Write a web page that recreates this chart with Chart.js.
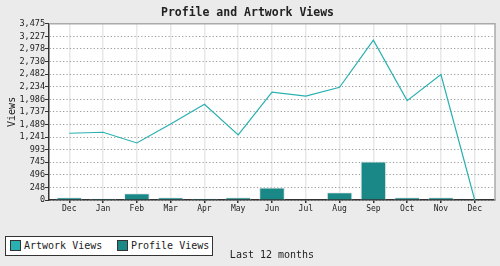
<!DOCTYPE html>
<html>
<head>
<meta charset="utf-8">
<script src="https://cdn.jsdelivr.net/npm/chart.js@4/dist/chart.umd.min.js"></script>
<style>
  html, body { margin: 0; padding: 0; background: #ebebeb; }
  #wrap { position: relative; width: 500px; height: 266px; }
  #legend {
    position: absolute; left: 5px; top: 236px; width: 206px; height: 18px;
    border: 1.5px solid #333; background: #fff;
    font: 10px "DejaVu Sans Mono", monospace; color: #222;
  }
  .item { position: absolute; top: 0; height: 18px; line-height: 18px; white-space: nowrap; }
  .sw { display: inline-block; width: 9px; height: 9px; border: 1px solid #333;
        vertical-align: middle; margin-right: 3px; position: relative; top: -1px; }
</style>
</head>
<body>
<div id="wrap">
  <canvas id="chart" width="500" height="266"></canvas>
  <div id="legend"></div>
</div>
<script>
/* =========================
   DATA
========================= */
const months = ["Dec", "Jan", "Feb", "Mar", "Apr", "May", "Jun", "Jul", "Aug", "Sep", "Oct", "Nov", "Dec"];
const artworkViews = [1316, 1336, 1125, 1500, 1889, 1283, 2126, 2047, 2224, 3153, 1960, 2473, 0];
const profileViews = [55, 30, 135, 55, 30, 55, 248, 10, 155, 765, 55, 55, 0];
const yTickLabels = ["0", "248", "496", "745", "993", "1,241", "1,489", "1,737", "1,986",
                     "2,234", "2,482", "2,730", "2,978", "3,227", "3,475"];
const yMax = 3474.8;

/* =========================
   PLOT BACKGROUND
========================= */
const plotBox = {
  id: "plotBox",
  beforeDraw(chart) {
    const { ctx, chartArea: a } = chart;
    ctx.save();
    ctx.fillStyle = "#fff";
    ctx.fillRect(a.left, a.top, a.right - a.left, a.bottom - a.top);
    ctx.restore();
  },
  beforeDatasetsDraw(chart) {
    const { ctx, chartArea: a } = chart;
    ctx.save();
    ctx.strokeStyle = "#aaa";
    ctx.lineWidth = 1.5;
    ctx.beginPath();
    ctx.moveTo(a.left, a.top);
    ctx.lineTo(a.right, a.top);
    ctx.lineTo(a.right, a.bottom);
    ctx.stroke();
    ctx.restore();
  }
};

/* =========================
   CHART
========================= */
Chart.defaults.font.family = '"DejaVu Sans Mono", monospace';
Chart.defaults.color = "#222";

const chart = new Chart(document.getElementById("chart"), {
  data: {
    datasets: [
      {
        type: "line",
        label: "Artwork Views",
        data: artworkViews.map((v, i) => ({ x: i, y: v })),
        borderColor: "#2ab0b0",
        backgroundColor: "#2ab0b0",
        borderWidth: 1.2,
        pointRadius: 0,
        tension: 0,
        order: 0
      },
      {
        type: "bar",
        label: "Profile Views",
        data: profileViews.map((v, i) => ({ x: i, y: v })),
        backgroundColor: "#1b8888",
        borderColor: "#ececec",
        borderWidth: 1.2,
        categoryPercentage: 1,
        barPercentage: 0.77,
        order: 1
      }
    ]
  },
  options: {
    responsive: false,
    animation: false,
    layout: { padding: { left: 0, right: 5, top: 0, bottom: 0 } },
    plugins: {
      legend: { display: false },
      tooltip: { enabled: false },
      title: {
        display: true,
        text: "Profile and Artwork Views",
        font: { size: 11.5, weight: "bold" },
        padding: { top: 6, bottom: 4 }
      }
    },
    scales: {
      x: {
        type: "linear",
        offset: false,
        min: -0.6,
        max: 12.6,
        afterBuildTicks: s => { s.ticks = months.map((m, i) => ({ value: i })); },
        afterFit: s => { s.height = 66; },
        ticks: { callback: v => months[v], font: { size: 8 }, padding: 1, maxRotation: 0, autoSkip: false },
        grid: { offset: false, color: "#e8e8e8", lineWidth: 1.5, tickColor: "#333", tickLength: 3 },
        border: { color: "#333", width: 1.5 },
        title: { display: true, text: "Last 12 months", font: { size: 10 }, padding: { top: 0, bottom: 5 } }
      },
      y: {
        min: 0,
        max: yMax,
        afterBuildTicks: s => { s.ticks = yTickLabels.map((t, i) => ({ value: i * yMax / 14 })); },
        afterFit: s => { s.width = 49; },
        ticks: { callback: (v, i) => yTickLabels[i], font: { size: 8.5 }, padding: 0, autoSkip: false },
        grid: { color: "#999", lineWidth: 1, tickColor: "#333", tickLength: 4, tickBorderDash: [] },
        border: { color: "#333", width: 1.5, dash: [1.2, 2.2] },
        title: { display: true, text: "Views", font: { size: 10 }, padding: { top: 6, bottom: 0 } }
      }
    }
  },
  plugins: [plotBox]
});

/* =========================
   LEGEND
========================= */
const legend = document.getElementById("legend");
const itemLeft = [4, 111];
chart.data.datasets.forEach((ds, i) => {
  const item = document.createElement("div");
  item.className = "item";
  item.style.left = itemLeft[i] + "px";
  item.innerHTML = `<span class="sw" style="background:${ds.backgroundColor}"></span>${ds.label}`;
  legend.appendChild(item);
});
</script>
</body>
</html>
